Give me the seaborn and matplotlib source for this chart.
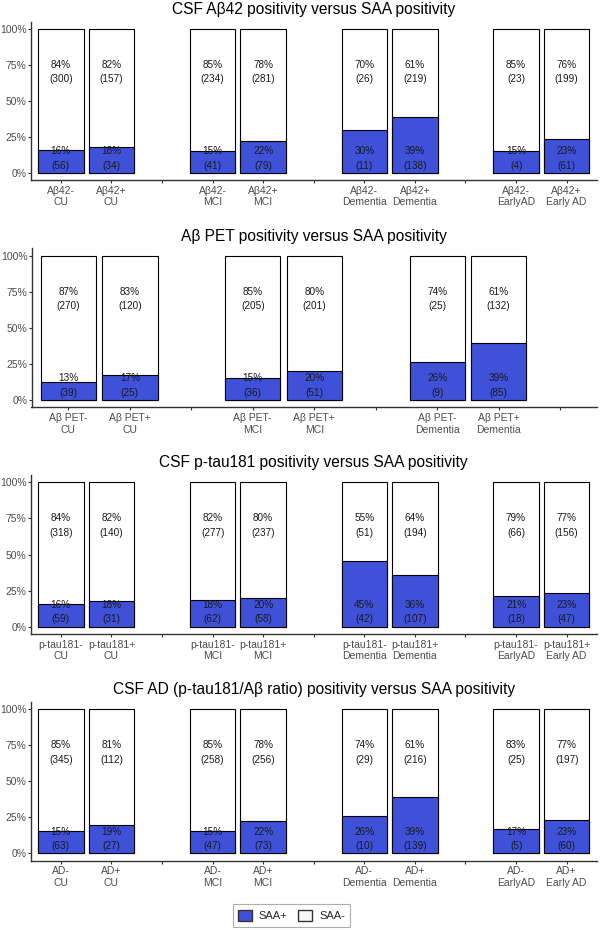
import pandas as pd
import seaborn as sns
import matplotlib
matplotlib.use('Agg')
import matplotlib.pyplot as plt
from matplotlib.patches import Patch

# data
titles = ['CSF Aβ42 positivity versus SAA positivity',
          'Aβ PET positivity versus SAA positivity',
          'CSF p-tau181 positivity versus SAA positivity',
          'CSF AD (p-tau181/Aβ ratio) positivity versus SAA positivity']

labels_abeta = ['Aβ42-\nCU', 'Aβ42+\nCU', 'Aβ42-\nMCI', 'Aβ42+\nMCI',
                'Aβ42-\nDementia', 'Aβ42+\nDementia', 'Aβ42-\nEarlyAD', 'Aβ42+\nEarly AD']
pos_pct_abeta = [16, 18, 15, 22, 30, 39, 15, 23]
pos_n_abeta = [56, 34, 41, 79, 11, 138, 4, 61]
neg_pct_abeta = [84, 82, 85, 78, 70, 61, 85, 76]
neg_n_abeta = [300, 157, 234, 281, 26, 219, 23, 199]

labels_pet = ['Aβ PET-\nCU', 'Aβ PET+\nCU', 'Aβ PET-\nMCI', 'Aβ PET+\nMCI',
              'Aβ PET-\nDementia', 'Aβ PET+\nDementia']
pos_pct_pet = [13, 17, 15, 20, 26, 39]
pos_n_pet = [39, 25, 36, 51, 9, 85]
neg_pct_pet = [87, 83, 85, 80, 74, 61]
neg_n_pet = [270, 120, 205, 201, 25, 132]

labels_ptau = ['p-tau181-\nCU', 'p-tau181+\nCU', 'p-tau181-\nMCI', 'p-tau181+\nMCI',
               'p-tau181-\nDementia', 'p-tau181+\nDementia', 'p-tau181-\nEarlyAD', 'p-tau181+\nEarly AD']
pos_pct_ptau = [16, 18, 18, 20, 45, 36, 21, 23]
pos_n_ptau = [59, 31, 62, 58, 42, 107, 18, 47]
neg_pct_ptau = [84, 82, 82, 80, 55, 64, 79, 77]
neg_n_ptau = [318, 140, 277, 237, 51, 194, 66, 156]

labels_ad = ['AD-\nCU', 'AD+\nCU', 'AD-\nMCI', 'AD+\nMCI',
             'AD-\nDementia', 'AD+\nDementia', 'AD-\nEarlyAD', 'AD+\nEarly AD']
pos_pct_ad = [15, 19, 15, 22, 26, 39, 17, 23]
pos_n_ad = [63, 27, 47, 73, 10, 139, 5, 60]
neg_pct_ad = [85, 81, 85, 78, 74, 61, 83, 77]
neg_n_ad = [345, 112, 258, 256, 29, 216, 25, 197]

panels = [
    (labels_abeta, pos_pct_abeta, pos_n_abeta, neg_pct_abeta, neg_n_abeta),
    (labels_pet, pos_pct_pet, pos_n_pet, neg_pct_pet, neg_n_pet),
    (labels_ptau, pos_pct_ptau, pos_n_ptau, neg_pct_ptau, neg_n_ptau),
    (labels_ad, pos_pct_ad, pos_n_ad, neg_pct_ad, neg_n_ad),
]

BLUE = '#3F51D9'

sns.set_style('white')
plt.rcParams['font.family'] = ['Liberation Sans', 'DejaVu Sans']

W, H = 600, 930
fig = plt.figure(figsize=(6, 9.3), dpi=100)

# axes boxes in pixels: (left, right, top, bottom)
boxes = [(30.5, 597, 22.1, 179.9),
         (31.5, 597, 248.5, 407.2),
         (30.5, 597, 475.1, 633.9),
         (30.5, 597, 702.1, 860.5)]


def make_order(labels):
    # empty slot after each pair of bars, like the gaps in the original
    order = []
    k = 0
    for i in range(0, len(labels), 2):
        order += labels[i:i + 2]
        k += 1
        order.append(' ' * k)
    return order


for (lab, ppct, pn, npct, nn), title, (l, r, t, b) in zip(panels, titles, boxes):
    ax = fig.add_axes([l / W, 1 - b / H, (r - l) / W, (b - t) / H])
    df = pd.DataFrame({'label': lab, 'pos_n': pn, 'neg_n': nn})
    df['total'] = 1.0
    df['frac'] = df['pos_n'] / (df['pos_n'] + df['neg_n'])
    order = make_order(lab)
    if len(lab) == 8:
        order = order[:-1]

    sns.barplot(data=df, x='label', y='total', order=order, color='white',
                edgecolor='black', linewidth=0.8, width=0.9, saturation=1, ax=ax)
    sns.barplot(data=df, x='label', y='frac', order=order, color=BLUE,
                edgecolor='black', linewidth=0.8, width=0.9, saturation=1, ax=ax)

    for i, name in enumerate(lab):
        x = order.index(name)
        ax.text(x, 0.75, f'{npct[i]}%', ha='center', va='center', fontsize=7.2, color='#1a1a1a')
        ax.text(x, 0.65, f'({nn[i]})', ha='center', va='center', fontsize=7.2, color='#1a1a1a')
        ax.text(x, 0.15, f'{ppct[i]}%', ha='center', va='center', fontsize=7.2, color='#1a1a1a')
        ax.text(x, 0.05, f'({pn[i]})', ha='center', va='center', fontsize=7.2, color='#1a1a1a')

    ax.set_xlim(-0.6, len(order) - 0.4)
    ax.set_ylim(-0.05, 1.05)
    ax.set_yticks([0, 0.25, 0.5, 0.75, 1.0])
    ax.set_yticklabels(['0%', '25%', '50%', '75%', '100%'])
    ax.set_xlabel('')
    ax.set_ylabel('')
    ax.set_title(title, fontsize=11.2, pad=5.5, color='black')
    sns.despine(ax=ax)
    for s in ['left', 'bottom']:
        ax.spines[s].set_linewidth(1.0)
        ax.spines[s].set_color('#333333')
    ax.tick_params(axis='both', length=2.0, width=0.8, color='#333333',
                   labelsize=7.5, labelcolor='#4D4D4D', left=True, bottom=True)
    ax.tick_params(axis='y', pad=0.8)
    ax.tick_params(axis='x', pad=2.2)
    ax.grid(False)

handles = [Patch(facecolor=BLUE, edgecolor='#333333', label='SAA+'),
           Patch(facecolor='#F7F7F7', edgecolor='#333333', label='SAA-')]
leg = fig.legend(handles=handles, loc='center', bbox_to_anchor=(291.5 / W, 1 - 915.5 / H),
                 ncol=2, fontsize=8, frameon=True, fancybox=False, edgecolor='#999999',
                 handlelength=1.25, handleheight=1.25, handletextpad=0.6, columnspacing=1.0,
                 borderpad=0.5, borderaxespad=0)
leg.get_frame().set_linewidth(0.8)

fig.savefig('out.png', dpi=100)
